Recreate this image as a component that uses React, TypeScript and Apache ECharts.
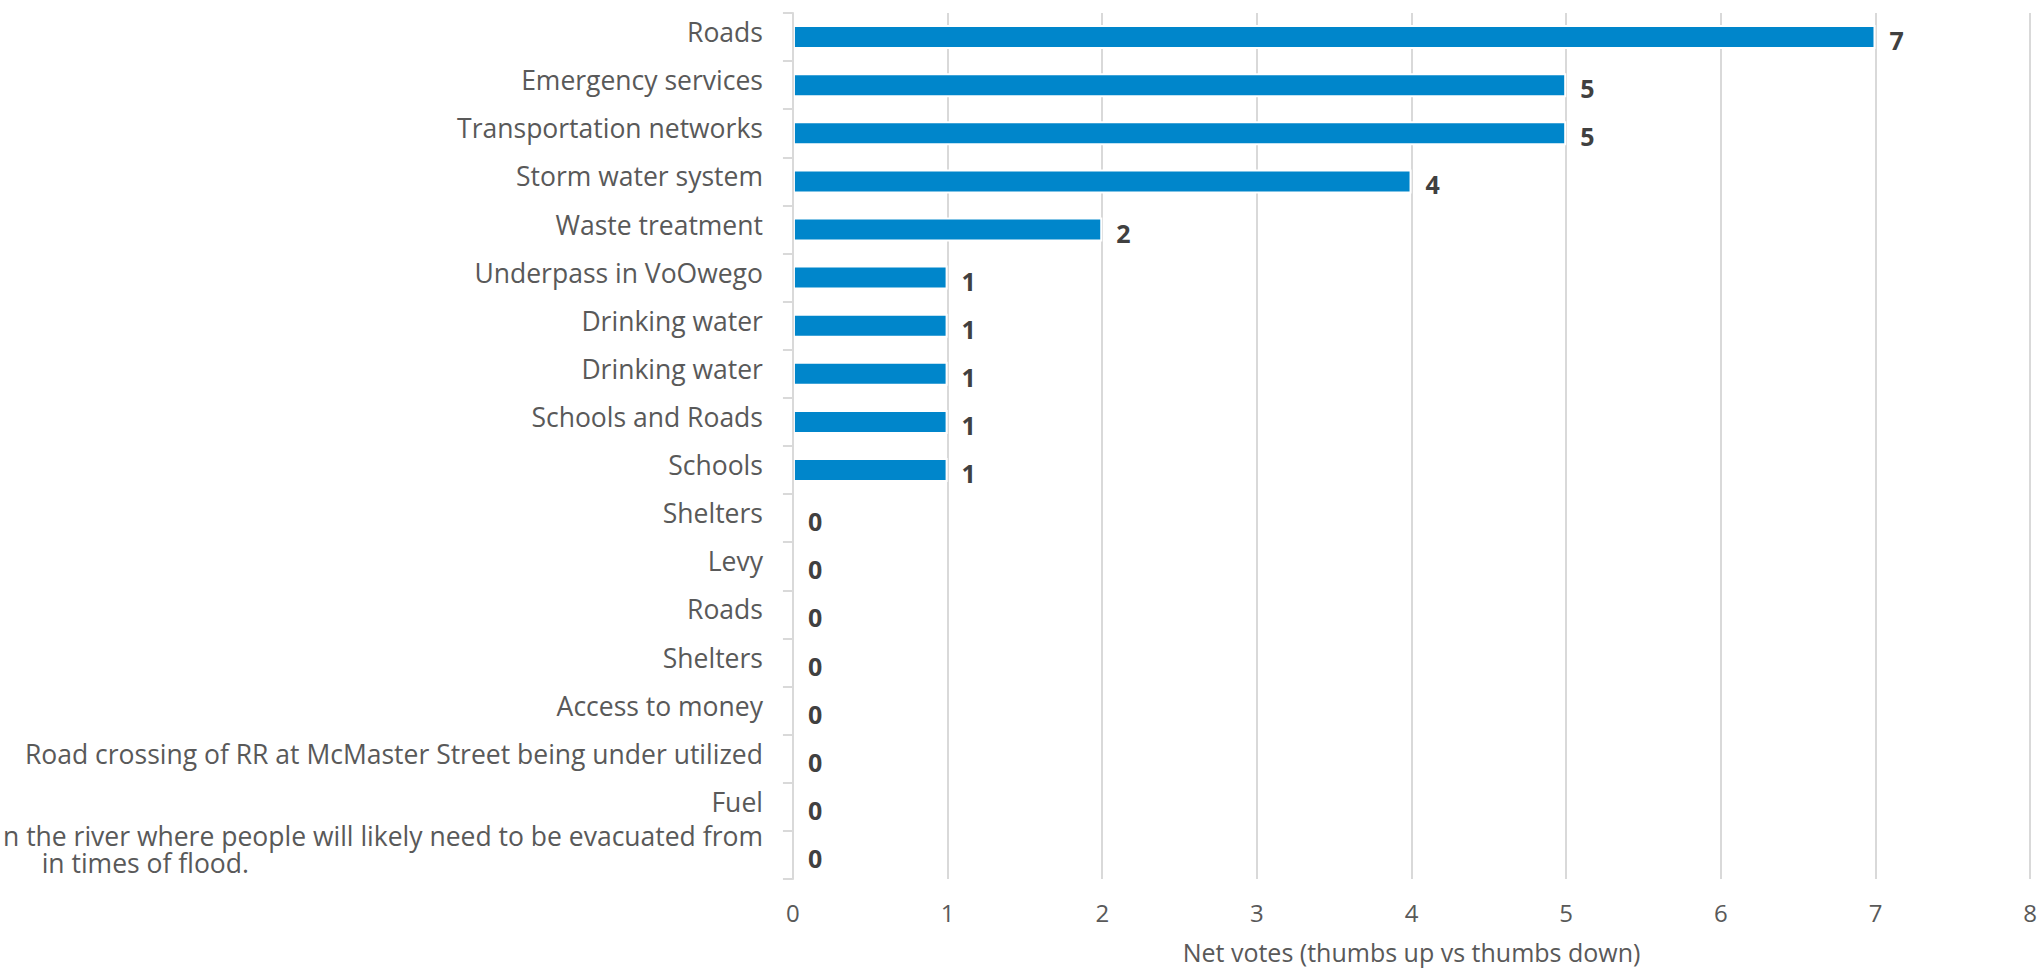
import React, { useEffect, useRef } from "react";
import * as echarts from "echarts";

const categories: string[] = [
  "Roads",
  "Emergency services",
  "Transportation networks",
  "Storm water system",
  "Waste treatment",
  "Underpass in VoOwego",
  "Drinking water",
  "Drinking water",
  "Schools and Roads",
  "Schools",
  "Shelters",
  "Levy",
  "Roads",
  "Shelters",
  "Access to money",
  "Road crossing of RR at McMaster Street being under utilized",
  "Fuel",
  "n the river where people will likely need to be evacuated from\nin times of flood.",
];

const netVotes: number[] = [7, 5, 5, 4, 2, 1, 1, 1, 1, 1, 0, 0, 0, 0, 0, 0, 0, 0];

const xTicks: number[] = [0, 1, 2, 3, 4, 5, 6, 7, 8];

const axisTitle = "Net votes (thumbs up vs thumbs down)";

const FONT = "'Open Sans', 'Noto Sans', sans-serif";
const LABEL_SIZE = 26.5;

export default function App() {
  const ref = useRef<HTMLDivElement>(null);

  useEffect(() => {
    if (!ref.current) return;
    const chart = echarts.init(ref.current, null, { renderer: "svg" });
    chart.setOption({
      animation: false,
      backgroundColor: "#ffffff",
      grid: { left: 792, right: 5, top: 13, bottom: 89, containLabel: false },
      xAxis: {
        type: "value",
        min: xTicks[0],
        max: xTicks[xTicks.length - 1],
        interval: 1,
        name: axisTitle,
        nameLocation: "middle",
        nameGap: 60,
        nameTextStyle: { color: "#595959", fontSize: 25, fontFamily: FONT },
        axisLine: { show: false },
        axisTick: { show: false },
        axisLabel: {
          color: "#595959",
          fontSize: 24,
          fontFamily: FONT,
          margin: 21,
        },
        splitLine: { show: true, lineStyle: { color: "#d9d9d9", width: 2 } },
      },
      yAxis: {
        type: "category",
        inverse: true,
        data: categories,
        z: 3,
        axisLine: { show: true, lineStyle: { color: "#d9d9d9", width: 2 } },
        axisTick: {
          show: true,
          length: 10,
          alignWithLabel: false,
          lineStyle: { color: "#d9d9d9", width: 2 },
        },
        axisLabel: {
          color: "#595959",
          fontSize: LABEL_SIZE,
          fontFamily: FONT,
          margin: 30,
          interval: 0,
          padding: [0, 0, 10, 0],
          formatter: (value: string) => {
            if (value.indexOf("\n") >= 0) {
              const parts = value.split("\n");
              return `{a|${parts[0]}}\n{b|${parts[1]}}`;
            }
            return value;
          },
          rich: {
            a: { color: "#595959", fontSize: LABEL_SIZE, fontFamily: FONT, lineHeight: 27 },
            b: {
              color: "#595959",
              fontSize: LABEL_SIZE,
              fontFamily: FONT,
              lineHeight: 27,
              padding: [0, 514, 0, 0],
            },
          },
        },
        splitLine: { show: false },
      },
      series: [
        {
          type: "bar",
          data: netVotes,
          barWidth: 24,
          itemStyle: { color: "#0086cb", borderColor: "#ffffff", borderWidth: 2 },
          label: {
            show: true,
            position: "right",
            distance: 14,
            offset: [0, 3],
            color: "#404040",
            fontSize: 25,
            fontWeight: "bold",
            fontFamily: FONT,
          },
        },
      ],
    });
    return () => chart.dispose();
  }, []);

  return (
    <div
      ref={ref}
      style={{ position: "absolute", left: 0, top: 0, width: 2040, height: 969 }}
    />
  );
}
